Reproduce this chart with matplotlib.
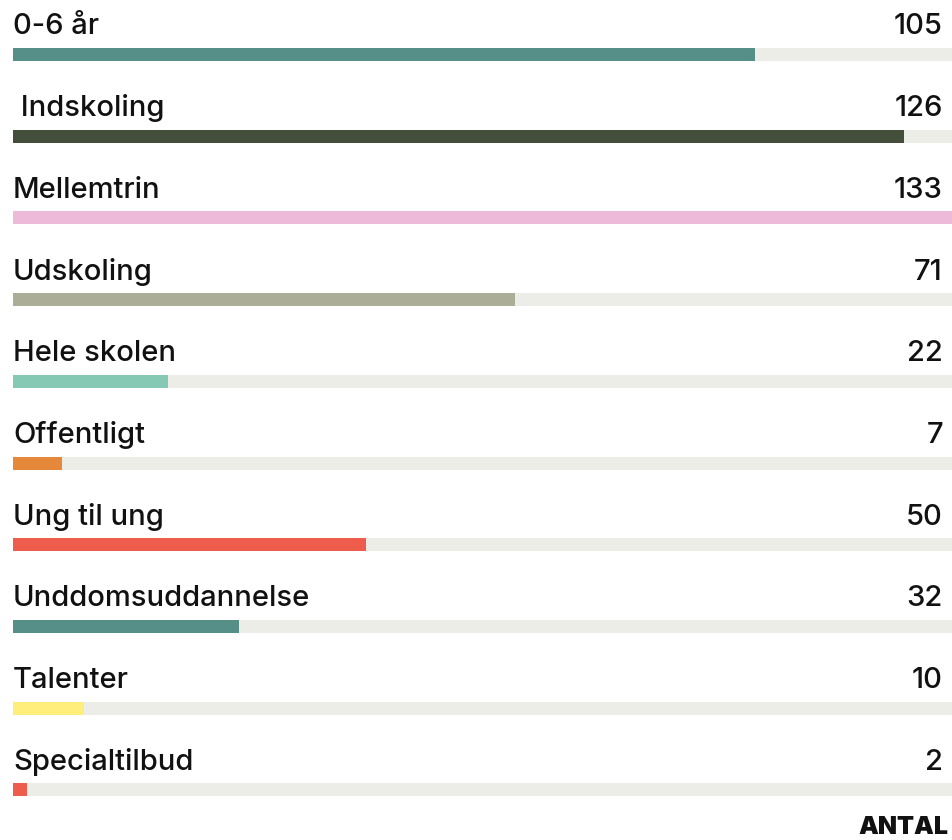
import matplotlib
matplotlib.use("Agg")
import matplotlib.pyplot as plt

categories = ["0-6 år", " Indskoling", "Mellemtrin", "Udskoling", "Hele skolen",
              "Offentligt", "Ung til ung", "Unddomsuddannelse", "Talenter", "Specialtilbud"]
values = [105, 126, 133, 71, 22, 7, 50, 32, 10, 2]
colors = ["#558F87", "#434F3A", "#EDBBD9", "#ABAD97", "#85C9B5",
          "#E5883A", "#EE5C4B", "#558F87", "#FFED7C", "#EE5C4B"]
axis_label = "ANTAL"

W, H = 953, 840
fig = plt.figure(figsize=(W / 100, H / 100), dpi=100)
left, right = 13, 953
ax = fig.add_axes([left / W, 0, (right - left) / W, 1])
vmax = max(values)
ax.set_xlim(0, vmax)
ax.set_ylim(H, 0)
ax.axis("off")

first_center = 54.5
step = 81.7
bar_h = 13
font = "Inter"
for i, (cat, v, c) in enumerate(zip(categories, values, colors)):
    yc = first_center + i * step
    ax.barh(yc, vmax, height=bar_h, left=0, color="#EDEDE8", linewidth=0)
    ax.barh(yc, v, height=bar_h, left=0, color=c, linewidth=0)
    ax.text(0, yc - bar_h / 2 - 13.5, cat, ha="left", va="baseline",
            fontsize=21, family=font, fontweight="medium", color="#111111")
    ax.text((943 - left) / (right - left) * vmax, yc - bar_h / 2 - 13.5, str(v),
            ha="right", va="baseline", fontsize=21, family=font,
            fontweight="medium", color="#111111")

fig.text(948 / W, 1 - 834 / H, axis_label, ha="right", va="baseline",
         fontsize=18, family=font, fontweight="black", color="#111111")

fig.savefig("out.png", dpi=100, facecolor="white")
